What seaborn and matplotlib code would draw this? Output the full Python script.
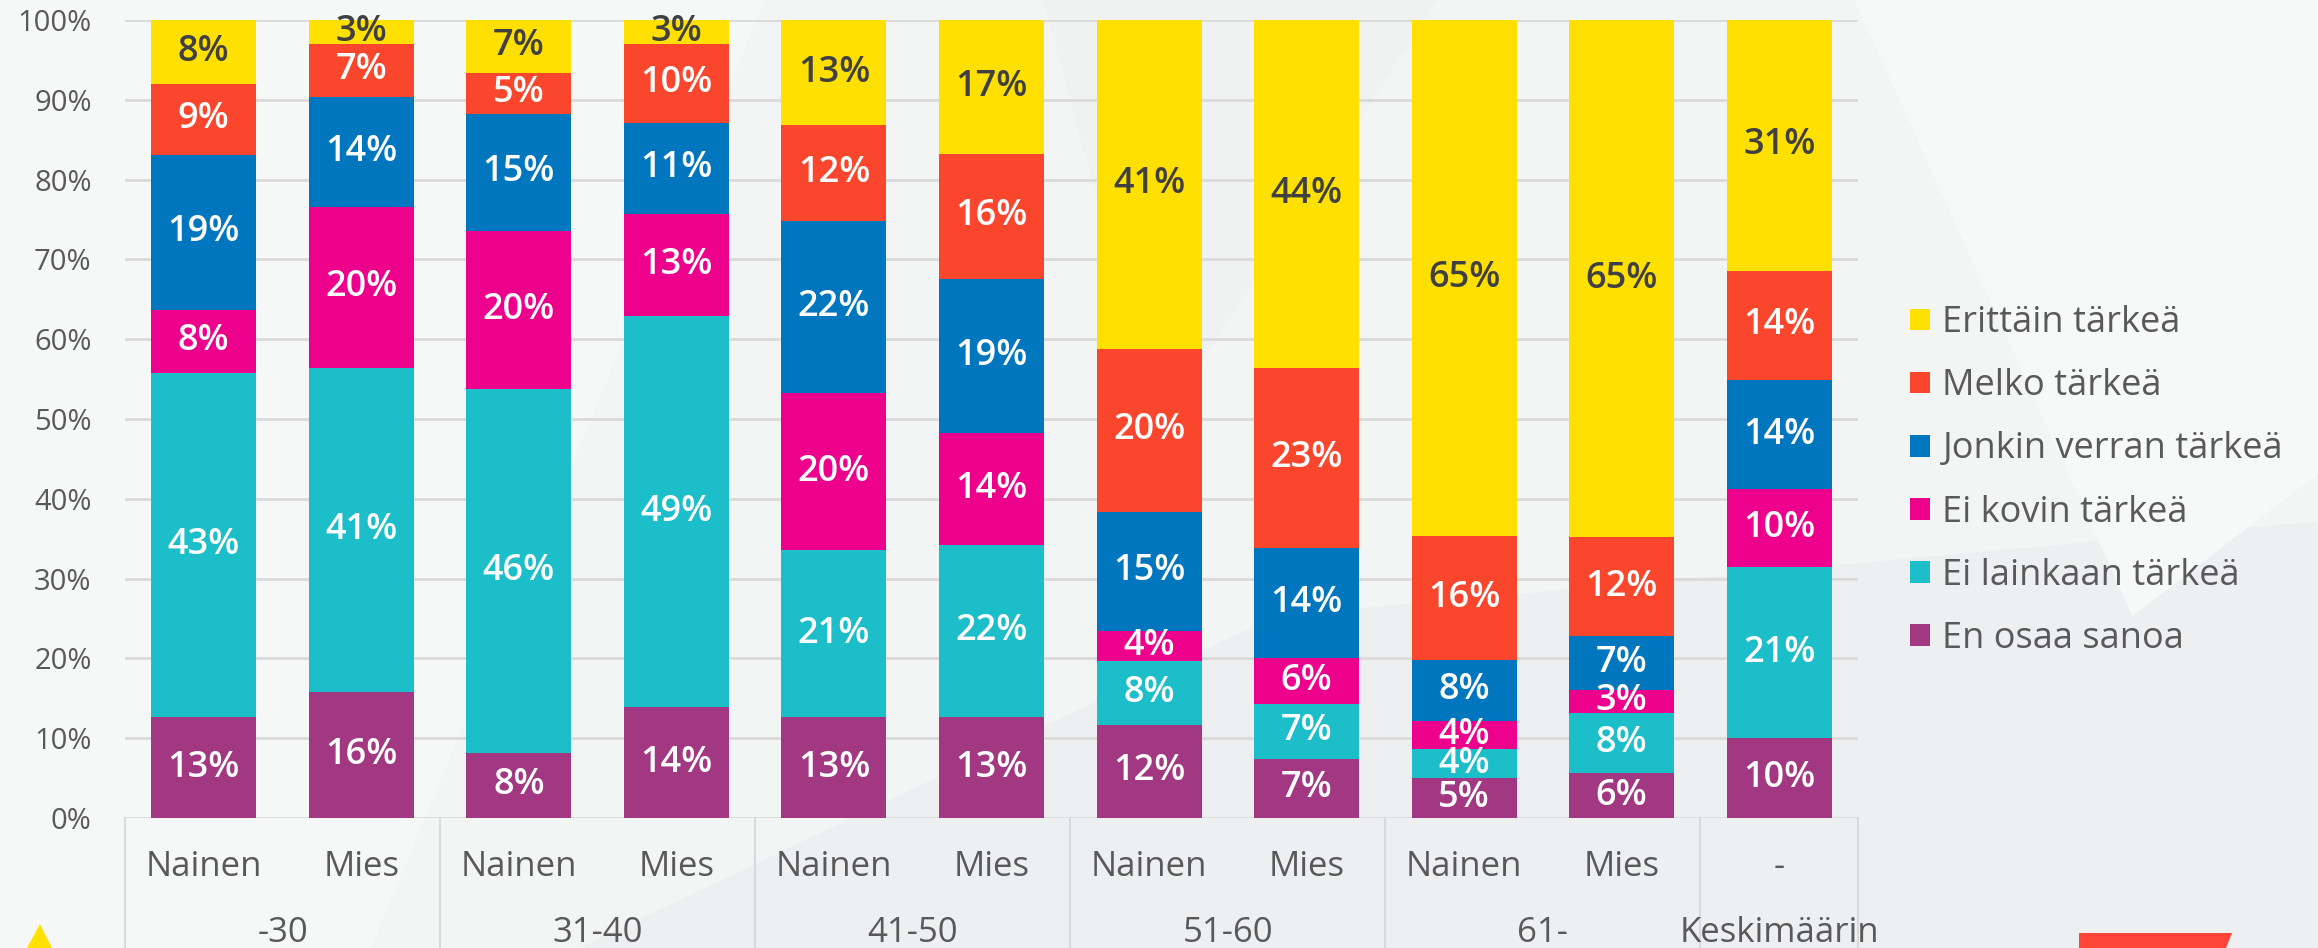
import numpy as np
import pandas as pd
import matplotlib
matplotlib.use('Agg')
import matplotlib.pyplot as plt
import matplotlib.transforms as mtransforms
from matplotlib.patches import Polygon, Patch
import seaborn as sns

# bar labels (bottom row = sex, top row = age group)
sexes = ['Nainen', 'Mies', 'Nainen', 'Mies', 'Nainen', 'Mies', 'Nainen', 'Mies', 'Nainen', 'Mies', '-']
groups = ['-30', '31-40', '41-50', '51-60', '61-', 'Keskimäärin']

# shares per answer, bottom to top of each bar (%)
en_osaa_sanoa = [12.6, 15.8, 8.2, 13.9, 12.6, 12.6, 11.7, 7.4, 5.0, 5.6, 10.0]
ei_lainkaan = [43.2, 40.6, 45.5, 49.0, 21.0, 21.6, 8.0, 6.9, 3.6, 7.6, 21.4]
ei_kovin = [7.9, 20.2, 19.9, 12.8, 19.6, 14.1, 3.7, 5.7, 3.6, 2.8, 9.8]
jonkin_verran = [19.4, 13.8, 14.6, 11.4, 21.6, 19.3, 15.0, 13.8, 7.6, 6.8, 13.7]
melko = [8.9, 6.6, 5.2, 9.9, 12.0, 15.6, 20.4, 22.6, 15.6, 12.4, 13.7]
erittain = [8.0, 3.0, 6.6, 3.0, 13.2, 16.8, 41.2, 43.6, 64.6, 64.8, 31.4]

series = ['En osaa sanoa', 'Ei lainkaan tärkeä', 'Ei kovin tärkeä',
          'Jonkin verran tärkeä', 'Melko tärkeä', 'Erittäin tärkeä']
colors = ['#A23782', '#1CBECA', '#EC008C', '#0076BF', '#F9462D', '#FFE000']

df = pd.DataFrame({'bar': range(len(sexes))})
for name, vals in zip(series, [en_osaa_sanoa, ei_lainkaan, ei_kovin, jonkin_verran, melko, erittain]):
    df[name] = vals
cum = df[series].cumsum(axis=1)

plt.rcParams['font.family'] = ['Open Sans', 'DejaVu Sans']
W, H = 2318, 948
fig = plt.figure(figsize=(W / 100, H / 100), dpi=100)
fig.patch.set_facecolor('#F3F4F4')

# faint background shapes
for pts, c in [
    ([(0, 1), (0.33, 1), (0.16, 0.0), (0, 0)], '#F6F7F7'),
    ([(0.25, 0), (0.55, 0.35), (1, 0.45), (1, 0)], '#EEEFF0'),
    ([(0.80, 1), (1, 1), (1, 0.50), (0.92, 0.35)], '#F7F8F8'),
    ([(0.45, 1), (0.62, 1), (0.50, 0.55)], '#F0F1F1'),
]:
    fig.add_artist(Polygon(pts, closed=True, transform=fig.transFigure, color=c, zorder=-5, lw=0))
# decorative corner marks
fig.add_artist(Polygon([(27 / W, 0), (40 / W, 24 / H), (52 / W, 0)], transform=fig.transFigure,
                       color='#FFE000', lw=0))
fig.add_artist(Polygon([(2079 / W, 0), (2079 / W, 15 / H), (2232 / W, 15 / H), (2226 / W, 0)],
                       transform=fig.transFigure, color='#FF4438', lw=0))

ax = fig.add_axes([125 / W, 130 / H, (1858 - 125) / W, 798 / H])
ax.set_facecolor('none')

# stacked bars: draw cumulative totals from the top series down
for name, col in reversed(list(zip(series, colors))):
    sns.barplot(x=df['bar'], y=cum[name], color=col, saturation=1, width=0.667,
                ax=ax, zorder=3)

for i in range(len(df)):
    for name, col in zip(series, colors):
        v = df.loc[i, name]
        y = cum.loc[i, name] - v / 2
        tc = '#404040' if name == 'Erittäin tärkeä' else 'white'
        ax.text(i, y, f'{int(v + 0.5)}%', ha='center', va='center', fontsize=26,
                fontweight='semibold', color=tc, zorder=5)

ax.set_xlim(-0.5, len(df) - 0.5)
ax.set_ylim(0, 100)
ax.set_yticks(range(0, 101, 10))
ax.set_yticklabels([f'{t}%' for t in range(0, 101, 10)])
ax.tick_params(axis='y', length=0, pad=24, labelsize=21, labelcolor='#595959')
ax.set_xticks([])
ax.set_xlabel('')
ax.set_ylabel('')
ax.grid(axis='y', color='#DADADA', linewidth=2, zorder=0)
ax.set_axisbelow(True)
for s in ax.spines.values():
    s.set_visible(False)

# two-level category axis
tr = mtransforms.blended_transform_factory(ax.transData, ax.transAxes)
for xs in [-0.5, 1.5, 3.5, 5.5, 7.5, 9.5, 10.5]:
    ax.plot([xs, xs], [0, -0.165], transform=tr, color='#DADADA', lw=1.5, clip_on=False)
for i, s in enumerate(sexes):
    ax.text(i, -0.061, s, transform=tr, ha='center', va='center', fontsize=25, color='#595959')
for g, name in enumerate(groups):
    xc = 2 * g + 0.5 if g < 5 else 10
    ax.text(xc, -0.144, name, transform=tr, ha='center', va='center', fontsize=25, color='#595959')

handles = [Patch(facecolor=c, label=n) for n, c in zip(series, colors)][::-1]
leg = fig.legend(handles=handles, loc='center left', bbox_to_anchor=(1910 / W, 467 / H),
                 frameon=False, fontsize=26, labelcolor='#595959', handlelength=0.55,
                 handleheight=0.55, handletextpad=0.35, labelspacing=0.75, borderpad=0,
                 borderaxespad=0)

fig.savefig('out.png', dpi=100, facecolor=fig.get_facecolor())
